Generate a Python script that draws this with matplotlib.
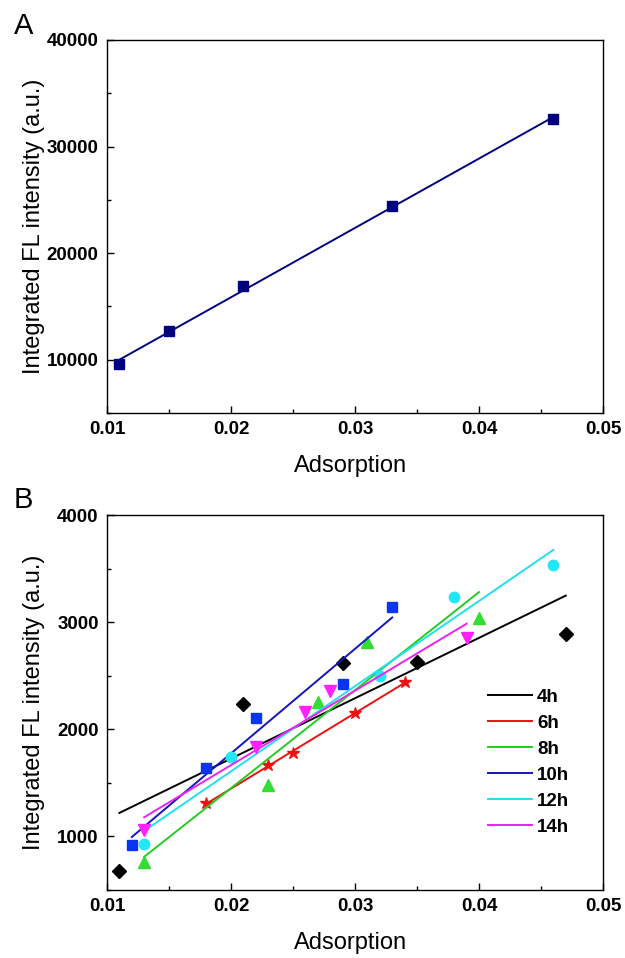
import numpy as np
import matplotlib
matplotlib.use("Agg")
import matplotlib.pyplot as plt
from matplotlib.ticker import MultipleLocator

plt.rcParams['font.family'] = ['Liberation Sans', 'DejaVu Sans']

# panel A data
xa = [0.011, 0.015, 0.021, 0.033, 0.046]
ya = [9600, 12700, 16900, 24400, 32600]

# panel B data
labels = ["4h", "6h", "8h", "10h", "12h", "14h"]
xb = [
    [0.011, 0.021, 0.029, 0.035, 0.047],
    [0.018, 0.023, 0.025, 0.030, 0.034],
    [0.013, 0.023, 0.027, 0.031, 0.040],
    [0.012, 0.018, 0.022, 0.029, 0.033],
    [0.013, 0.020, 0.032, 0.038, 0.046],
    [0.013, 0.022, 0.026, 0.028, 0.039],
]
yb = [
    [680, 2235, 2620, 2630, 2890],
    [1310, 1662, 1783, 2150, 2439],
    [761, 1482, 2259, 2818, 3042],
    [922, 1643, 2104, 2427, 3145],
    [928, 1737, 2498, 3238, 3533],
    [1062, 1833, 2159, 2362, 2856],
]
line_colors = ["black", "#ee1111", "#22cc22", "#1414c0", "#20e0f0", "#ee22ee"]
mark_colors = ["black", "#ee1111", "#33dd33", "#0a35f0", "#20e8f4", "#ff22ff"]
markers = ["D", "*", "^", "s", "o", "v"]
msizes = [7, 9, 8, 6.5, 7.5, 8]

fig = plt.figure(figsize=(6.25, 9.58), dpi=100)
axA = fig.add_axes([0.1712, 0.5689, 0.7936, 0.3894])
axB = fig.add_axes([0.1712, 0.0710, 0.7936, 0.3914])


def style(ax):
    for s in ax.spines.values():
        s.set_linewidth(1.0)
    ax.tick_params(which='both', direction='in', top=False, right=False,
                   width=1.0, pad=6)
    ax.tick_params(which='major', length=5, labelsize=13.5)
    ax.tick_params(which='minor', length=3)
    ax.set_xlim(0.01, 0.05)
    ax.xaxis.set_minor_locator(MultipleLocator(0.005))
    ax.set_xticks([0.01, 0.02, 0.03, 0.04, 0.05])
    ax.set_xticklabels(["0.01", "0.02", "0.03", "0.04", "0.05"], fontweight='bold')
    ax.set_xlabel("Adsorption", fontsize=17)
    ax.set_ylabel("Integrated FL intensity (a.u.)", fontsize=17)
    ax.xaxis.set_label_coords(0.49, -0.112)
    ax.yaxis.set_label_coords(-0.125, 0.5)


# panel A
p = np.polyfit(xa, ya, 1)
xs = np.array([min(xa), max(xa)])
axA.plot(xs, np.polyval(p, xs), color="#000080", lw=1.4)
axA.plot(xa, ya, "s", color="#000080", ms=6.5)
axA.set_ylim(5000, 40000)
axA.yaxis.set_minor_locator(MultipleLocator(5000))
style(axA)
axA.set_yticks([10000, 20000, 30000, 40000])
axA.set_yticklabels(["10000", "20000", "30000", "40000"], fontweight='bold')

# panel B
for i in range(len(labels)):
    p = np.polyfit(xb[i], yb[i], 1)
    xs = np.array([min(xb[i]), max(xb[i])])
    axB.plot(xs, np.polyval(p, xs), color=line_colors[i], lw=1.4, label=labels[i])
    axB.plot(xb[i], yb[i], markers[i], color=mark_colors[i], ms=msizes[i], lw=0)
axB.set_ylim(500, 4000)
axB.yaxis.set_minor_locator(MultipleLocator(500))
style(axB)
axB.set_yticks([1000, 2000, 3000, 4000])
axB.set_yticklabels(["1000", "2000", "3000", "4000"], fontweight='bold')

handles, labs = axB.get_legend_handles_labels()
axB.legend(handles, labs, frameon=False, loc='center left',
           bbox_to_anchor=(0.735, 0.341), handlelength=2.35,
           handletextpad=0.25, labelspacing=0.47,
           prop={'weight': 'bold', 'size': 13.5})

fig.text(0.037, 1 - 26 / 958, "A", fontsize=21, ha='center', va='center')
fig.text(0.038, 1 - 500 / 958, "B", fontsize=21, ha='center', va='center')

fig.savefig("out.png", dpi=100)
